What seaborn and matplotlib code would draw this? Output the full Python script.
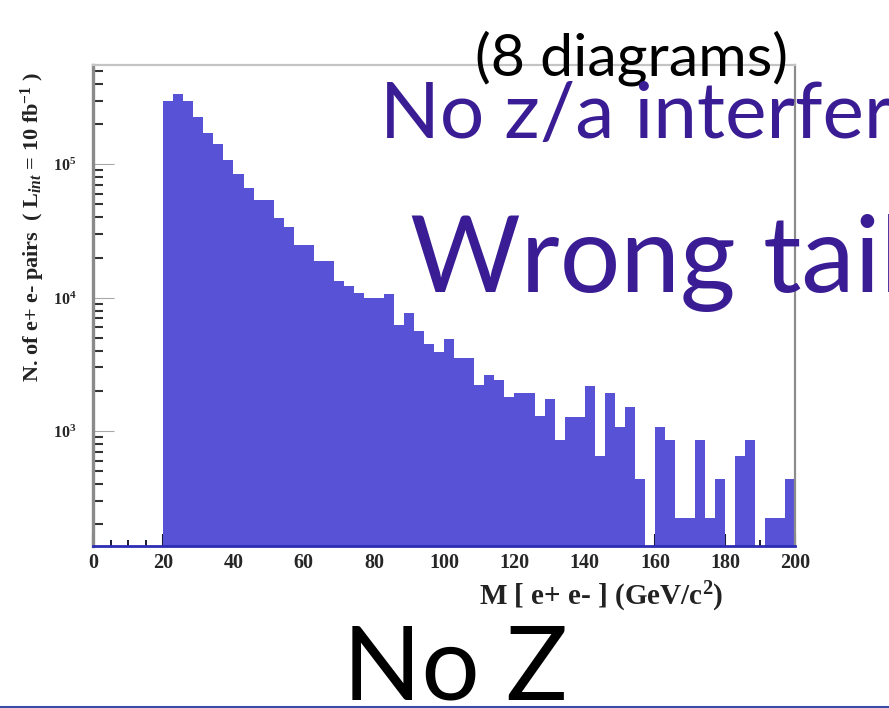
import numpy as np
import pandas as pd
import matplotlib
matplotlib.use("Agg")
import matplotlib.pyplot as plt
from matplotlib.lines import Line2D
from matplotlib.ticker import FixedLocator, FixedFormatter, MultipleLocator, NullFormatter
import seaborn as sns

# Histogram binning: 70 bins between 0 and 200 GeV/c^2
n_bins = 70
mass_range = (0.0, 200.0)

# Entries per bin for M > 20 GeV/c^2 (bins below 20 are empty)
empty_low_bins = 7
counts = [
    298000, 337000, 298000, 225000, 171000, 142000, 108000, 84600, 66800, 54000,
    54000, 39400, 34000, 24800, 24800, 18800, 18800, 13400, 12200, 10800,
    9900, 9900, 10600, 6240, 7740, 5620, 4490, 3910, 4920, 3500,
    3500, 2230, 2620, 2410, 1790, 1940, 1940, 1300, 1740, 856,
    1280, 1280, 2190, 649, 1920, 1080, 1520, 437, 0, 1070,
    856, 224, 224, 856, 224, 437, 0, 649, 856, 0,
    224, 224, 437,
]

x_major = [0, 20, 40, 60, 80, 100, 120, 140, 160, 180, 200]
y_decades = [1e3, 1e4, 1e5]
y_decade_labels = [r"$\mathbf{10^{3}}$", r"$\mathbf{10^{4}}$", r"$\mathbf{10^{5}}$"]
y_limits = (138, 5.56e5)

edges = np.linspace(mass_range[0], mass_range[1], n_bins + 1)
centers = 0.5 * (edges[:-1] + edges[1:])
weights = [0] * empty_low_bins + counts
df = pd.DataFrame({"mass": centers, "w": weights})

sns.set_theme(style="white")
plt.rcParams["mathtext.fontset"] = "custom"
plt.rcParams["mathtext.rm"] = "Liberation Serif:bold"
plt.rcParams["mathtext.bf"] = "Liberation Serif:bold"
plt.rcParams["mathtext.it"] = "Liberation Serif:bold:italic"

fig = plt.figure(figsize=(8.89, 7.08), dpi=100)
fig.patch.set_facecolor("white")
ax = fig.add_axes([0.1046, 0.2292, 0.7902, 0.679])

bar_color = "#5852d6"
sns.histplot(data=df, x="mass", weights="w", bins=n_bins, binrange=mass_range,
             ax=ax, element="bars", fill=True, color=bar_color, alpha=1.0,
             linewidth=0, edgecolor=bar_color)

ax.set_yscale("log")
ax.set_xlim(mass_range)
ax.set_ylim(y_limits)

# frame
ax.spines["left"].set_color("#8a8a8a")
ax.spines["left"].set_linewidth(2.4)
ax.spines["top"].set_color("#c4c4c4")
ax.spines["top"].set_linewidth(1.6)
ax.spines["right"].set_color("#8c8c8c")
ax.spines["right"].set_linewidth(1.6)
ax.spines["bottom"].set_color("#2d2db4")
ax.spines["bottom"].set_linewidth(2.0)
for s in ax.spines.values():
    s.set_zorder(4)

# x ticks
ax.xaxis.set_major_locator(FixedLocator(x_major))
ax.xaxis.set_minor_locator(MultipleLocator(5))
ax.set_xticklabels([str(v) for v in x_major], fontfamily="Liberation Serif",
                   fontweight="bold", fontsize=14.5)
ax.tick_params(axis="x", which="major", direction="in", length=9, width=1.5,
               color="#1a1a3a", pad=5, bottom=True, top=False)
ax.tick_params(axis="x", which="minor", direction="in", length=4.5, width=1.4,
               color="#1a1a3a", bottom=True, top=False)

# y ticks
ax.yaxis.set_major_locator(FixedLocator(y_decades))
ax.yaxis.set_major_formatter(FixedFormatter(y_decade_labels))
minor_y = [m * 10 ** e for e in (2, 3, 4, 5) for m in range(2, 10)]
ax.yaxis.set_minor_locator(FixedLocator(minor_y))
ax.yaxis.set_minor_formatter(NullFormatter())
ax.tick_params(axis="y", which="major", direction="in", length=15, width=0.8,
               color="#a8a8a8", pad=12, labelsize=11.5, left=True, right=False)
ax.tick_params(axis="y", which="minor", direction="in", length=7, width=1.5,
               color="#333333", left=True, right=False)

ax.set_xlabel(r"M [ e+ e- ] (GeV/c$^{2}$)", fontfamily="Liberation Serif",
              fontweight="bold", fontsize=21, ha="right", va="top", color="#222222")
ax.xaxis.set_label_coords(0.897, -0.072)
ax.set_ylabel(r"N. of e+ e- pairs  ( L$_{int}$ = 10 fb$^{-1}$ )",
              fontfamily="Liberation Serif", fontweight="bold", fontsize=16,
              ha="center", va="center", color="#222222")
ax.yaxis.set_label_coords(-0.0854, 0.663)

# slide annotations
purple = "#3a1d94"
fig.text(475 / 889, 1 - 75 / 708, "(8 diagrams)", fontfamily="Lato",
         fontsize=42.5, color="black", ha="left", va="baseline")
fig.text(380 / 889, 1 - 138 / 708, "No z/a interference", fontfamily="Lato",
         fontsize=56.5, color=purple, ha="left", va="baseline")
fig.text(410 / 889, 1 - 291.7 / 708, "Wrong tail", fontfamily="Lato",
         fontsize=77, color=purple, ha="left", va="baseline")
fig.text(343 / 889, 1 - 699 / 708, "No Z", fontfamily="Lato",
         fontsize=74, color="black", ha="left", va="baseline")
fig.add_artist(Line2D([0, 1], [1 - 706.5 / 708, 1 - 706.5 / 708],
                      transform=fig.transFigure, color="#3a4aa8", linewidth=2.2))

fig.savefig("out.png", dpi=100, facecolor="white")
